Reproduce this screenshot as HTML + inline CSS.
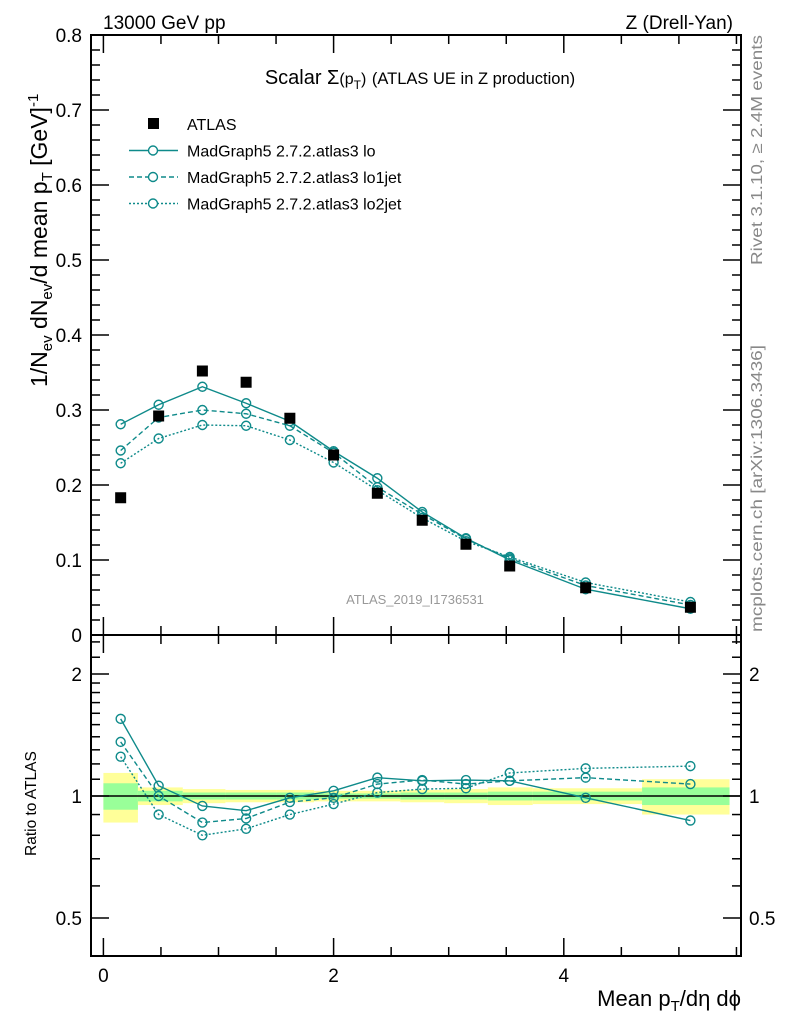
<!DOCTYPE html>
<html><head><meta charset="utf-8"><style>
html,body{margin:0;padding:0;background:#fff;}
svg{display:block;font-family:"Liberation Sans",sans-serif;}
</style></head><body>
<svg id="chart" width="786" height="1024" viewBox="0 0 786 1024" xmlns="http://www.w3.org/2000/svg">
<text x="103" y="29" font-size="19">13000 GeV pp</text>
<text x="733" y="29" font-size="19" text-anchor="end">Z (Drell-Yan)</text>
<text x="420" y="84" font-size="20" text-anchor="middle">Scalar Σ<tspan font-size="16">(p</tspan><tspan font-size="12" dy="5">T</tspan><tspan font-size="16" dy="-5">)</tspan> <tspan font-size="16.5">(ATLAS UE in Z production)</tspan></text>
<text x="415" y="604" font-size="13" fill="#999" text-anchor="middle">ATLAS_2019_I1736531</text>
<text transform="translate(762,265) rotate(-90)" font-size="16" fill="#888" textLength="230" lengthAdjust="spacingAndGlyphs">Rivet 3.1.10, ≥ 2.4M events</text>
<text transform="translate(762,632) rotate(-90)" font-size="16" fill="#888" textLength="287" lengthAdjust="spacingAndGlyphs">mcplots.cern.ch [arXiv:1306.3436]</text>
<text transform="translate(47,387) rotate(-90)" font-size="23">1/N<tspan font-size="15" dy="5">ev</tspan><tspan dy="-5"> dN</tspan><tspan font-size="15" dy="5">ev</tspan><tspan dy="-5">/d mean p</tspan><tspan font-size="15" dy="5">T</tspan><tspan dy="-5"> [GeV]</tspan><tspan font-size="15" dy="-9">-1</tspan></text>
<text transform="translate(36,856) rotate(-90)" font-size="15.5">Ratio to ATLAS</text>
<text x="741" y="1006" font-size="22" text-anchor="end">Mean p<tspan font-size="15" dy="5">T</tspan><tspan dy="-5">/dη dϕ</tspan></text>
<g id="bands"></g><g id="axes"></g><g id="marks"></g><g id="legend"></g>
</svg>
<script>
const xs=[0.15,0.48,0.86,1.24,1.62,2.0,2.38,2.77,3.15,3.53,4.19,5.1];
const atlas=[0.183,0.292,0.352,0.337,0.289,0.24,0.189,0.153,0.121,0.092,0.063,0.037];
const lo=[0.281,0.307,0.331,0.309,0.285,0.245,0.209,0.164,0.129,0.1,0.061,0.035];
const lo1jet=[0.246,0.29,0.3,0.295,0.279,0.243,0.197,0.161,0.128,0.102,0.066,0.04];
const lo2jet=[0.229,0.262,0.28,0.279,0.26,0.23,0.193,0.156,0.125,0.104,0.07,0.044];
const ratioLo=[1.55,1.06,0.945,0.92,0.99,1.03,1.11,1.09,1.095,1.09,0.99,0.87];
const ratioLo1=[1.36,1.0,0.86,0.88,0.966,0.99,1.07,1.095,1.07,1.09,1.11,1.07];
const ratioLo2=[1.25,0.9,0.8,0.83,0.9,0.955,1.02,1.04,1.045,1.14,1.17,1.185];
const binEdges=[0,0.3,0.69,1.06,1.5,1.83,2.2,2.58,2.96,3.34,3.73,4.68,5.44];
const totErr=[0.14,0.05,0.04,0.035,0.035,0.03,0.03,0.035,0.04,0.05,0.045,0.1];
const statErr=[0.075,0.03,0.02,0.02,0.02,0.015,0.015,0.02,0.02,0.025,0.025,0.05];
const yTicks=[0,0.1,0.2,0.3,0.4,0.5,0.6,0.7,0.8];
const yTickLabels=["0","0.1","0.2","0.3","0.4","0.5","0.6","0.7","0.8"];
const xTickLabels=["0","2","4"];
const rTicks=[0.5,1,2];
const rTickLabels=["0.5","1","2"];

const L=91,R=741,T=35,MB=635,RB=956;
const X=v=>103.4+115.1*v;
const Y=v=>635-750*v;
const YR=v=>796-122*Math.log2(v);
const NS="http://www.w3.org/2000/svg";
function mk(tag,attrs,parent){const e=document.createElementNS(NS,tag);for(const k in attrs)e.setAttribute(k,attrs[k]);document.getElementById(parent).appendChild(e);return e;}

for(let i=0;i<totErr.length;i++){
 const x1=X(binEdges[i]),x2=X(binEdges[i+1]);
 const b=mk('rect',{x:x1,y:YR(1+totErr[i]),width:x2-x1,height:YR(1-totErr[i])-YR(1+totErr[i]),fill:'#ffff99'},'bands');
 
 
 const g=mk('rect',{x:x1,y:YR(1+statErr[i]),width:x2-x1,height:YR(1-statErr[i])-YR(1+statErr[i]),fill:'#99ff99'},'bands');
 
 
}
const f1=mk('rect',{x:L,y:T,width:R-L,height:MB-T,fill:'none',stroke:'#000','stroke-width':2},'axes');


const f2=mk('rect',{x:L,y:MB,width:R-L,height:RB-MB,fill:'none',stroke:'#000','stroke-width':2},'axes');


const one=mk('line',{x1:L,x2:R,y1:YR(1),y2:YR(1),stroke:'#000','stroke-width':1.5},'axes');


for(let v=0;v<=0.8001;v+=0.02){
 const major=Math.abs(v*10-Math.round(v*10))<1e-6;const len=major?18:9;
 mk('line',{x1:L,x2:L+len,y1:Y(v),y2:Y(v),stroke:'#000','stroke-width':1.5},'axes');
 mk('line',{x1:R,x2:R-len,y1:Y(v),y2:Y(v),stroke:'#000','stroke-width':1.5},'axes');
}
yTicks.forEach((v,i)=>{const t=mk('text',{x:82,y:Y(v)+7,'font-size':19,'text-anchor':'end'},'axes');t.textContent=yTickLabels[i];
 
 });
for(let v=0;v<=5.5;v+=0.5){
 const major=Math.abs(v-Math.round(v/2)*2)<1e-6;const len=major?18:9;const x=X(v);
 [[T,1],[MB,-1],[MB,1],[RB,-1]].forEach(([y0,d])=>mk('line',{x1:x,x2:x,y1:y0,y2:y0+d*len,stroke:'#000','stroke-width':1.5},'axes'));
}
xTickLabels.forEach((s,i)=>{const t=mk('text',{x:X(i*2),y:982,'font-size':19,'text-anchor':'middle'},'axes');t.textContent=s;
 
 });
const minor=[0.4,0.5,0.6,0.7,0.8,0.9,1,2];
minor.forEach(v=>{if(YR(v)>RB||YR(v)<MB)return;const len=(v==0.5||v==1||v==2)?18:9;
 mk('line',{x1:L,x2:L+len,y1:YR(v),y2:YR(v),stroke:'#000','stroke-width':1.5},'axes');
 mk('line',{x1:R,x2:R-len,y1:YR(v),y2:YR(v),stroke:'#000','stroke-width':1.5},'axes');});
for(let k=1.1;k<2;k+=0.1){[L,R].forEach((x0,j)=>mk('line',{x1:x0,x2:x0+(j?-9:9),y1:YR(k),y2:YR(k),stroke:'#000','stroke-width':1.5},'axes'));}
[2.2,2.4].forEach(k=>[L,R].forEach((x0,j)=>mk('line',{x1:x0,x2:x0+(j?-9:9),y1:YR(k),y2:YR(k),stroke:'#000','stroke-width':1.5},'axes')));
rTicks.forEach((v,i)=>{
 const a=mk('text',{x:82,y:YR(v)+7,'font-size':19,'text-anchor':'end'},'axes');a.textContent=rTickLabels[i];
 
 
 const b=mk('text',{x:749,y:YR(v)+7,'font-size':19},'axes');b.textContent=rTickLabels[i];
 
 });
const col='#0e8a8a';
const series=[[lo,ratioLo,'none','mg5-lo'],[lo1jet,ratioLo1,'5,3','mg5-lo1jet'],[lo2jet,ratioLo2,'2,2','mg5-lo2jet']];
series.forEach(([d,r,dash,name])=>{
 [[d,Y,'main'],[r,YR,'ratio']].forEach(([arr,fy,pn])=>{
  const pts=arr.map((v,i)=>X(xs[i])+','+fy(v)).join(' ');
  const pl=mk('polyline',{points:pts,fill:'none',stroke:col,'stroke-width':1.4,'stroke-dasharray':dash},'marks');
  
  
  arr.forEach((v,i)=>{const c=mk('circle',{cx:X(xs[i]),cy:fy(v),r:4.5,fill:'none',stroke:col,'stroke-width':1.4},'marks');
   
   });
 });
});
atlas.forEach((v,i)=>{const s=mk('rect',{x:X(xs[i])-5.5,y:Y(v)-5.5,width:11,height:11,fill:'#000'},'marks');
 
 });
const leg=[['ATLAS',null],['MadGraph5 2.7.2.atlas3 lo','none'],['MadGraph5 2.7.2.atlas3 lo1jet','5,3'],['MadGraph5 2.7.2.atlas3 lo2jet','2,2']];
leg.forEach(([lab,dash],i)=>{const y=124+i*26.5;
 if(dash===null){const s=mk('rect',{x:148,y:y-6,width:11,height:11,fill:'#000'},'legend');
  
  }
 else{const l=mk('line',{x1:129,x2:178,y1:y,y2:y,stroke:col,'stroke-width':1.4,'stroke-dasharray':dash},'legend');
  
  
  const c=mk('circle',{cx:153,cy:y,r:4.5,fill:'#fff',stroke:col,'stroke-width':1.4},'legend');
  
  }
 const t=mk('text',{x:187,y:y+6,'font-size':16},'legend');t.textContent=lab;
 
 
});
</script>
</body></html>
